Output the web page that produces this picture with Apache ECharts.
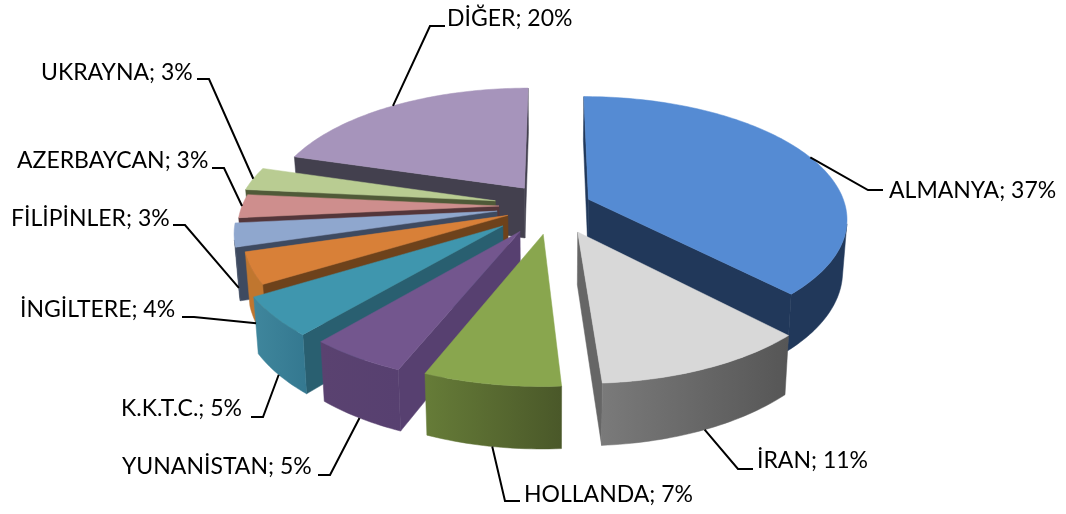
<!DOCTYPE html>
<html>
<head>
<meta charset="utf-8">
<style>
  html, body { margin: 0; padding: 0; background: #fff; }
  #main { width: 1066px; height: 514px; }
</style>
<script src="https://cdn.jsdelivr.net/npm/echarts@6/dist/echarts.min.js"></script>
</head>
<body>
<div id="main"></div>
<script>
// data
var countries = ['ALMANYA', 'İRAN', 'HOLLANDA', 'YUNANİSTAN', 'K.K.T.C.', 'İNGİLTERE', 'FİLİPİNLER', 'AZERBAYCAN', 'UKRAYNA', 'DİĞER'];
var shares = [37, 11, 7, 5, 5, 4, 3, 3, 3, 20];

// how far each slice is pulled out of the pie
var explode = [0.15, 0.23, 0.23, 0.24, 0.25, 0.19, 0.22, 0.21, 0.23, 0.19];

// slice colours: top, cut wall, rim left, rim right
var topColors = ['#558bd3', '#d8d8d8', '#89a64e', '#73568e', '#3f96ae', '#d88038', '#8fa7ce', '#ce8e8d', '#b9cc92', '#a694bb'];
var wallColors = ['#21385a', '#666666', '#4f5f2c', '#574070', '#295f70', '#6e421b', '#3e4a60', '#54363a', '#505a38', '#43404e'];
var rimLeft = ['#21385a', '#7a7a7a', '#667c38', '#5a4270', '#3f869c', '#c0762f', '#3e4a60', '#54363a', '#505a38', '#43404e'];
var rimRight = ['#21385a', '#565656', '#4a5829', '#574070', '#347890', '#c0762f', '#3e4a60', '#54363a', '#505a38', '#43404e'];

// back to front
var drawOrder = [9, 0, 8, 7, 6, 5, 4, 3, 2, 1];

// label placement: text left, text middle, elbow x, elbow y, how far down the rim the line lands
var labelLayout = [
  [889, 191, 868, 190, 0],
  [757, 461, 738, 469, 1],
  [524, 495, 505, 501, 1],
  [122, 467, 330, 475, 1],
  [121, 409, 263, 417, 1],
  [20, 310, 194, 317, 1],
  [11, 219, 185, 225, 1],
  [17, 161, 224, 168, 0],
  [41, 73, 209, 79, 0],
  [447, 19, 430, 26, 0]
];

// tilted pie geometry
var cx = 553, cy = 206, rx = 257, ry = 120, persp = 0.15, height = 51;

var total = shares.reduce(function (a, b) { return a + b; }, 0);
var startAngle = [], endAngle = [];
var acc = 0;
shares.forEach(function (s, i) {
  startAngle[i] = acc / total * Math.PI * 2;
  acc += s;
  endAngle[i] = acc / total * Math.PI * 2;
});

function project(u, v, d) {
  var w = 1 - persp * v;
  var x = rx * u / w * (1 - 0.015 * d);
  var y = (ry * v + height * d) / w;
  return [cx + x, cy + y];
}

// point of slice i at angle t (clockwise from the top), r = 0 gives the apex
function slicePoint(i, t, r, d) {
  var mid = (startAngle[i] + endAngle[i]) / 2;
  var u = explode[i] * Math.sin(mid) + r * Math.sin(t);
  var v = -explode[i] * Math.cos(mid) - r * Math.cos(t);
  return project(u, v, d);
}

// negative when the face looks at the viewer
function signedArea(pts) {
  var area = 0;
  for (var i = 0; i < pts.length; i++) {
    var a = pts[i], b = pts[(i + 1) % pts.length];
    area += a[0] * b[1] - b[0] * a[1];
  }
  return area;
}

function poly(points, fill, stroke) {
  return {
    type: 'polygon',
    shape: { points: points },
    style: { fill: fill, stroke: stroke, lineWidth: 0.5 }
  };
}

function renderSlice(params, api) {
  var i = api.value(0);
  var a0 = startAngle[i], a1 = endAngle[i];
  var children = [];
  var steps = Math.max(8, Math.ceil((a1 - a0) / 0.02));

  // cut walls, only when they look at the viewer
  var wall0 = [slicePoint(i, a0, 0, 0), slicePoint(i, a0, 1, 0), slicePoint(i, a0, 1, 1), slicePoint(i, a0, 0, 1)];
  var wall1 = [slicePoint(i, a1, 1, 0), slicePoint(i, a1, 0, 0), slicePoint(i, a1, 0, 1), slicePoint(i, a1, 1, 1)];
  if (signedArea(wall0) < 0) children.push(poly(wall0, wallColors[i], wallColors[i]));
  if (signedArea(wall1) < 0) children.push(poly(wall1, wallColors[i], wallColors[i]));

  // rim: one outline of the part that faces the viewer, shaded left to right
  var upper = [], lower = [];
  for (var s = 0; s < steps; s++) {
    var t0 = a0 + (a1 - a0) * s / steps, t1 = a0 + (a1 - a0) * (s + 1) / steps;
    var q = [slicePoint(i, t0, 1, 0), slicePoint(i, t1, 1, 0), slicePoint(i, t1, 1, 1), slicePoint(i, t0, 1, 1)];
    if (signedArea(q) < 0) {
      if (!upper.length) {
        upper.push(q[0]);
        lower.push(q[3]);
      }
      upper.push(q[1]);
      lower.push(q[2]);
    }
  }
  if (upper.length) {
    var xs = upper.concat(lower).map(function (p) { return p[0]; });
    var shade = {
      type: 'linear',
      x: Math.min.apply(null, xs), y: 0,
      x2: Math.max.apply(null, xs), y2: 0,
      global: true,
      colorStops: [{ offset: 0, color: rimLeft[i] }, { offset: 1, color: rimRight[i] }]
    };
    children.push(poly(upper.concat(lower.reverse()), shade, shade));
  }

  // top face
  var top = [slicePoint(i, a0, 0, 0)];
  for (var k = 0; k <= steps; k++) {
    top.push(slicePoint(i, a0 + (a1 - a0) * k / steps, 1, 0));
  }
  children.push(poly(top, topColors[i], topColors[i]));
  return { type: 'group', children: children };
}

function renderLabel(params, api) {
  var i = api.value(0);
  var lay = labelLayout[i];
  var mid = (startAngle[i] + endAngle[i]) / 2;
  var tip = slicePoint(i, mid, 1, lay[4]);
  var leftSide = lay[0] > lay[2];
  var text = countries[i] + '; ' + api.value(1) + '%';
  return {
    type: 'group',
    children: [
      {
        type: 'polyline',
        shape: { points: [tip, [lay[2], lay[3]], [lay[2] + (leftSide ? 15 : -12), lay[3]]] },
        style: { stroke: '#000', lineWidth: 2, fill: null }
      },
      {
        type: 'text',
        style: {
          x: lay[0], y: lay[1], text: text,
          fill: '#000', font: '23px Lato',
          textAlign: 'left', textVerticalAlign: 'middle'
        }
      }
    ]
  };
}

var rows = countries.map(function (name, i) { return { name: name, value: [i, shares[i]] }; });

var myChart = echarts.init(document.getElementById('main'));
var option = {
  backgroundColor: '#fff',
  animation: false,
  series: [
    {
      type: 'custom',
      coordinateSystem: 'none',
      silent: true,
      renderItem: renderSlice,
      data: drawOrder.map(function (i) { return rows[i]; })
    },
    {
      type: 'custom',
      coordinateSystem: 'none',
      silent: true,
      z: 5,
      renderItem: renderLabel,
      data: rows
    }
  ]
};
myChart.setOption(option);
</script>
</body>
</html>
